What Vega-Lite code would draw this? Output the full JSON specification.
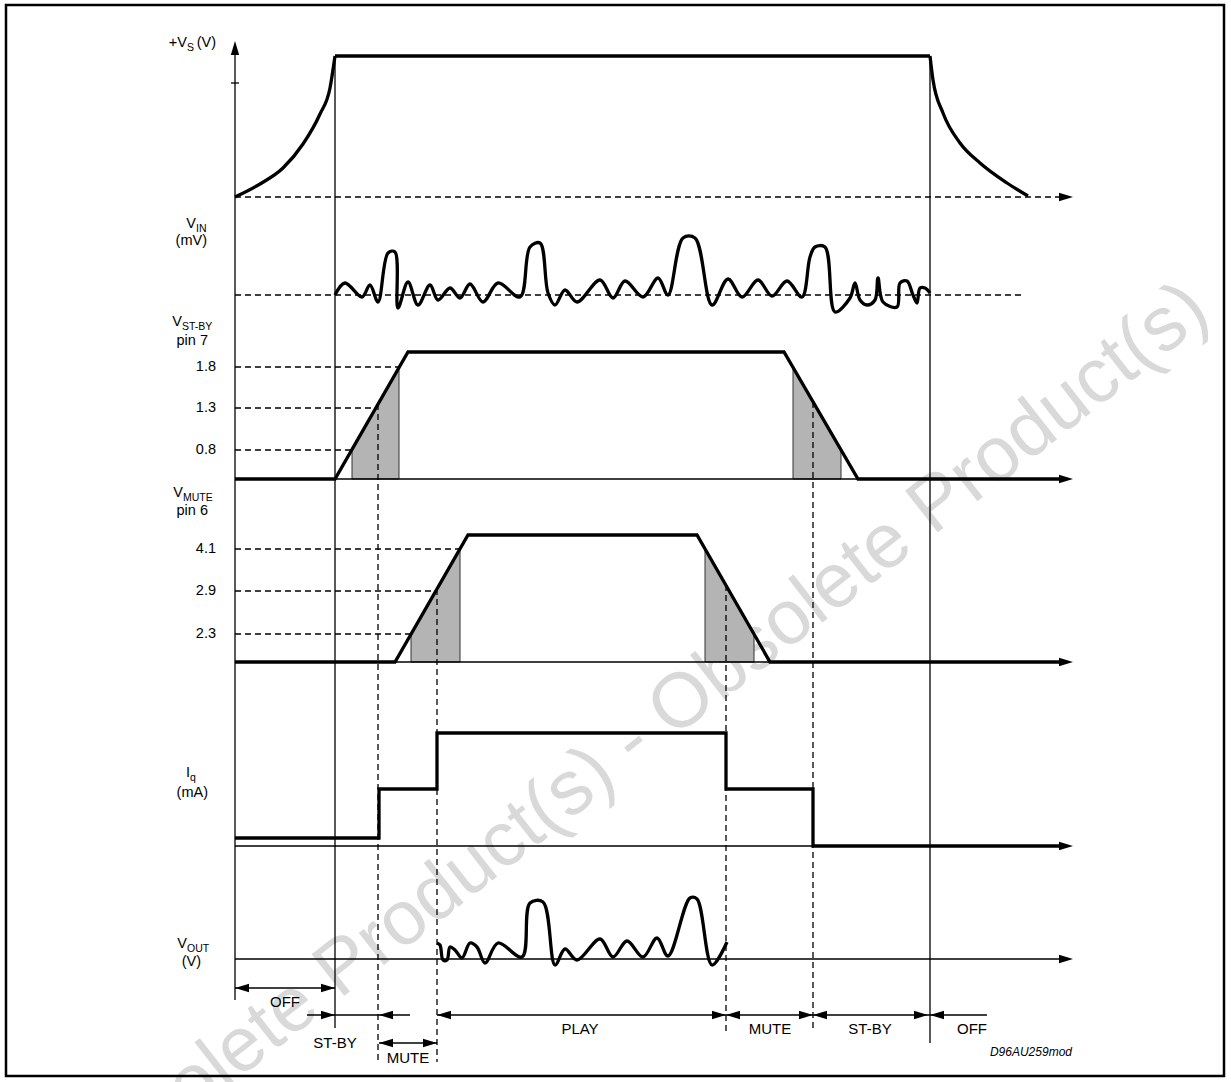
{
  "$schema": "https://vega.github.io/schema/vega-lite/v6.json",
  "width": 1231,
  "height": 1082,
  "autosize": "none",
  "padding": 0,
  "background": "white",
  "config": {"view": {"stroke": null}, "font": "Liberation Sans"},
  "datasets": {
    "watermark": [{"t": "Obsolete Product(s) - Obsolete Product(s)", "x": 632, "y": 742}],
    "frame": [{"x": 6, "y": 5, "x2": 1224, "y2": 1076}],
    "shade": [
      {"id": "s1", "x": 352, "y": 450, "b": 479}, {"id": "s1", "x": 399, "y": 367, "b": 479},
      {"id": "s2", "x": 793, "y": 367, "b": 479}, {"id": "s2", "x": 841, "y": 450, "b": 479},
      {"id": "s3", "x": 411, "y": 634, "b": 662}, {"id": "s3", "x": 460, "y": 549, "b": 662},
      {"id": "s4", "x": 705, "y": 549, "b": 662}, {"id": "s4", "x": 754, "y": 634, "b": 662}
    ],
    "thin": [
      {"id": "ax", "x": 235, "y": 52}, {"id": "ax", "x": 235, "y": 1000},
      {"id": "tk", "x": 231, "y": 83}, {"id": "tk", "x": 239, "y": 83},
      {"id": "l335", "x": 335, "y": 56}, {"id": "l335", "x": 335, "y": 1028},
      {"id": "l930", "x": 930, "y": 56}, {"id": "l930", "x": 930, "y": 1043},
      {"id": "b1", "x": 235, "y": 479}, {"id": "b1", "x": 1060, "y": 479},
      {"id": "b2", "x": 235, "y": 662}, {"id": "b2", "x": 1060, "y": 662},
      {"id": "b3", "x": 235, "y": 846}, {"id": "b3", "x": 1060, "y": 846},
      {"id": "b4", "x": 235, "y": 959}, {"id": "b4", "x": 1060, "y": 959},
      {"id": "a1", "x": 235, "y": 988}, {"id": "a1", "x": 335, "y": 988},
      {"id": "a2", "x": 307, "y": 1015}, {"id": "a2", "x": 410, "y": 1015},
      {"id": "a3", "x": 437, "y": 1015}, {"id": "a3", "x": 987, "y": 1015},
      {"id": "a4", "x": 379, "y": 1043}, {"id": "a4", "x": 437, "y": 1043}
    ],
    "dash": [
      {"id": "d1", "x": 235, "y": 197}, {"id": "d1", "x": 1060, "y": 197},
      {"id": "d2", "x": 235, "y": 295}, {"id": "d2", "x": 1025, "y": 295},
      {"id": "d3", "x": 235, "y": 367}, {"id": "d3", "x": 399, "y": 367},
      {"id": "d4", "x": 235, "y": 408}, {"id": "d4", "x": 376, "y": 408},
      {"id": "d5", "x": 235, "y": 450}, {"id": "d5", "x": 352, "y": 450},
      {"id": "d6", "x": 235, "y": 549}, {"id": "d6", "x": 460, "y": 549},
      {"id": "d7", "x": 235, "y": 591}, {"id": "d7", "x": 436, "y": 591},
      {"id": "d8", "x": 235, "y": 634}, {"id": "d8", "x": 411, "y": 634},
      {"id": "v1", "x": 378, "y": 404}, {"id": "v1", "x": 378, "y": 1062},
      {"id": "v2", "x": 437, "y": 589}, {"id": "v2", "x": 437, "y": 1062},
      {"id": "v3", "x": 726, "y": 585}, {"id": "v3", "x": 726, "y": 1032},
      {"id": "v4", "x": 813, "y": 402}, {"id": "v4", "x": 813, "y": 1032}
    ],
    "thickLinear": [
      {"id": "vsflat", "x": 335, "y": 56}, {"id": "vsflat", "x": 930, "y": 56},
      {"id": "st", "x": 235, "y": 479}, {"id": "st", "x": 335, "y": 479}, {"id": "st", "x": 408, "y": 352}, {"id": "st", "x": 784, "y": 352}, {"id": "st", "x": 858, "y": 479}, {"id": "st", "x": 1060, "y": 479},
      {"id": "mu", "x": 235, "y": 662}, {"id": "mu", "x": 395, "y": 662}, {"id": "mu", "x": 468, "y": 535}, {"id": "mu", "x": 697, "y": 535}, {"id": "mu", "x": 770, "y": 662}, {"id": "mu", "x": 1060, "y": 662},
      {"id": "iq", "x": 235, "y": 838}, {"id": "iq", "x": 379, "y": 838}, {"id": "iq", "x": 379, "y": 789}, {"id": "iq", "x": 437, "y": 789}, {"id": "iq", "x": 437, "y": 733}, {"id": "iq", "x": 726, "y": 733}, {"id": "iq", "x": 726, "y": 789}, {"id": "iq", "x": 813, "y": 789}, {"id": "iq", "x": 813, "y": 846}, {"id": "iq", "x": 1060, "y": 846}
    ],
    "vsCurves": [
      {"id": "vsr", "x": 235, "y": 197}, {"id": "vsr", "x": 260, "y": 184}, {"id": "vsr", "x": 283, "y": 168}, {"id": "vsr", "x": 303, "y": 144}, {"id": "vsr", "x": 320, "y": 114}, {"id": "vsr", "x": 330, "y": 88}, {"id": "vsr", "x": 335, "y": 56},
      {"id": "vsf", "x": 930, "y": 56}, {"id": "vsf", "x": 933, "y": 80}, {"id": "vsf", "x": 943, "y": 113}, {"id": "vsf", "x": 960, "y": 143}, {"id": "vsf", "x": 980, "y": 163}, {"id": "vsf", "x": 1007, "y": 183}, {"id": "vsf", "x": 1028, "y": 196}
    ],
    "waves": [
      {"id": "vin", "x": 335, "y": 295}, {"id": "vin", "x": 345, "y": 283}, {"id": "vin", "x": 362, "y": 297}, {"id": "vin", "x": 370, "y": 285}, {"id": "vin", "x": 378, "y": 302}, {"id": "vin", "x": 388, "y": 253}, {"id": "vin", "x": 395, "y": 252}, {"id": "vin", "x": 398, "y": 308}, {"id": "vin", "x": 408, "y": 282}, {"id": "vin", "x": 418, "y": 305}, {"id": "vin", "x": 430, "y": 285}, {"id": "vin", "x": 438, "y": 300}, {"id": "vin", "x": 450, "y": 288}, {"id": "vin", "x": 460, "y": 298}, {"id": "vin", "x": 470, "y": 284}, {"id": "vin", "x": 483, "y": 302}, {"id": "vin", "x": 498, "y": 283}, {"id": "vin", "x": 520, "y": 297}, {"id": "vin", "x": 530, "y": 247}, {"id": "vin", "x": 540, "y": 243}, {"id": "vin", "x": 548, "y": 293}, {"id": "vin", "x": 555, "y": 305}, {"id": "vin", "x": 565, "y": 290}, {"id": "vin", "x": 577, "y": 302}, {"id": "vin", "x": 600, "y": 280}, {"id": "vin", "x": 613, "y": 298}, {"id": "vin", "x": 625, "y": 281}, {"id": "vin", "x": 643, "y": 297}, {"id": "vin", "x": 658, "y": 278}, {"id": "vin", "x": 668, "y": 295}, {"id": "vin", "x": 683, "y": 238}, {"id": "vin", "x": 695, "y": 238}, {"id": "vin", "x": 712, "y": 305}, {"id": "vin", "x": 728, "y": 279}, {"id": "vin", "x": 742, "y": 297}, {"id": "vin", "x": 758, "y": 280}, {"id": "vin", "x": 772, "y": 296}, {"id": "vin", "x": 787, "y": 281}, {"id": "vin", "x": 802, "y": 297}, {"id": "vin", "x": 810, "y": 257}, {"id": "vin", "x": 815, "y": 247}, {"id": "vin", "x": 825, "y": 247}, {"id": "vin", "x": 835, "y": 312}, {"id": "vin", "x": 850, "y": 298}, {"id": "vin", "x": 855, "y": 283}, {"id": "vin", "x": 860, "y": 300}, {"id": "vin", "x": 867, "y": 305}, {"id": "vin", "x": 875, "y": 300}, {"id": "vin", "x": 878, "y": 278}, {"id": "vin", "x": 883, "y": 302}, {"id": "vin", "x": 897, "y": 307}, {"id": "vin", "x": 900, "y": 283}, {"id": "vin", "x": 907, "y": 281}, {"id": "vin", "x": 913, "y": 295}, {"id": "vin", "x": 917, "y": 303}, {"id": "vin", "x": 920, "y": 288}, {"id": "vin", "x": 925, "y": 288}, {"id": "vin", "x": 930, "y": 293},
      {"id": "vout", "x": 437, "y": 943}, {"id": "vout", "x": 440, "y": 945}, {"id": "vout", "x": 443, "y": 960}, {"id": "vout", "x": 447, "y": 960}, {"id": "vout", "x": 450, "y": 947}, {"id": "vout", "x": 455, "y": 950}, {"id": "vout", "x": 462, "y": 958}, {"id": "vout", "x": 470, "y": 943}, {"id": "vout", "x": 477, "y": 947}, {"id": "vout", "x": 485, "y": 963}, {"id": "vout", "x": 498, "y": 943}, {"id": "vout", "x": 522, "y": 957}, {"id": "vout", "x": 530, "y": 903}, {"id": "vout", "x": 543, "y": 902}, {"id": "vout", "x": 555, "y": 965}, {"id": "vout", "x": 565, "y": 949}, {"id": "vout", "x": 577, "y": 960}, {"id": "vout", "x": 600, "y": 939}, {"id": "vout", "x": 613, "y": 957}, {"id": "vout", "x": 627, "y": 941}, {"id": "vout", "x": 643, "y": 957}, {"id": "vout", "x": 657, "y": 938}, {"id": "vout", "x": 668, "y": 956}, {"id": "vout", "x": 690, "y": 898}, {"id": "vout", "x": 697, "y": 899}, {"id": "vout", "x": 712, "y": 965}, {"id": "vout", "x": 727, "y": 942}
    ],
    "bigArrows": [
      {"x": 1066, "y": 197, "dir": "R"}, {"x": 1066, "y": 479, "dir": "R"}, {"x": 1066, "y": 662, "dir": "R"}, {"x": 1066, "y": 846, "dir": "R"}, {"x": 1066, "y": 959, "dir": "R"},
      {"x": 235, "y": 48, "dir": "U"}
    ],
    "smallArrows": [
      {"x": 242, "y": 988, "dir": "L"}, {"x": 328, "y": 988, "dir": "R"},
      {"x": 328, "y": 1015, "dir": "R"}, {"x": 386, "y": 1015, "dir": "L"},
      {"x": 444, "y": 1015, "dir": "L"}, {"x": 719, "y": 1015, "dir": "R"},
      {"x": 733, "y": 1015, "dir": "L"}, {"x": 806, "y": 1015, "dir": "R"},
      {"x": 820, "y": 1015, "dir": "L"}, {"x": 921, "y": 1015, "dir": "R"},
      {"x": 937, "y": 1015, "dir": "L"},
      {"x": 386, "y": 1043, "dir": "L"}, {"x": 430, "y": 1043, "dir": "R"}
    ],
    "labelsR": [
      {"t": "+V", "x": 187, "y": 43}, {"t": "(V)", "x": 216, "y": 43},
      {"t": "V", "x": 196, "y": 224}, {"t": "(mV)", "x": 207, "y": 241},
      {"t": "V", "x": 182, "y": 322}, {"t": "pin 7", "x": 208, "y": 341},
      {"t": "1.8", "x": 216, "y": 367}, {"t": "1.3", "x": 216, "y": 408}, {"t": "0.8", "x": 216, "y": 450},
      {"t": "V", "x": 183, "y": 493}, {"t": "pin 6", "x": 208, "y": 511},
      {"t": "4.1", "x": 216, "y": 549}, {"t": "2.9", "x": 216, "y": 591}, {"t": "2.3", "x": 216, "y": 634},
      {"t": "I", "x": 190, "y": 773}, {"t": "(mA)", "x": 208, "y": 793},
      {"t": "V", "x": 187, "y": 944}, {"t": "(V)", "x": 201, "y": 962}
    ],
    "subs": [
      {"t": "S", "x": 187, "y": 48}, {"t": "IN", "x": 196, "y": 229}, {"t": "ST-BY", "x": 182, "y": 327},
      {"t": "MUTE", "x": 183, "y": 498}, {"t": "q", "x": 190, "y": 778}, {"t": "OUT", "x": 187, "y": 949}
    ],
    "bottom": [
      {"t": "OFF", "x": 285, "y": 1002}, {"t": "ST-BY", "x": 335, "y": 1043}, {"t": "MUTE", "x": 408, "y": 1058},
      {"t": "PLAY", "x": 580, "y": 1029}, {"t": "MUTE", "x": 770, "y": 1029}, {"t": "ST-BY", "x": 870, "y": 1029}, {"t": "OFF", "x": 972, "y": 1029}
    ],
    "code": [{"t": "D96AU259mod", "x": 1072, "y": 1052}]
  },
  "encoding": {
    "x": {"field": "x", "type": "quantitative", "scale": {"domain": [0, 1231], "nice": false, "zero": false}, "axis": null},
    "y": {"field": "y", "type": "quantitative", "scale": {"domain": [0, 1082], "nice": false, "zero": false, "reverse": true}, "axis": null}
  },
  "layer": [
    {
      "data": {"name": "watermark"},
      "mark": {"type": "text", "angle": -38, "fontSize": 77, "fill": "#d9d9d9", "align": "center", "baseline": "middle", "font": "Liberation Sans"},
      "encoding": {"text": {"field": "t"}}
    },
    {
      "data": {"name": "frame"},
      "mark": {"type": "rect", "fill": null, "fillOpacity": 0, "stroke": "black", "strokeWidth": 2.5},
      "encoding": {"x2": {"field": "x2"}, "y2": {"field": "y2"}}
    },
    {
      "data": {"name": "shade"},
      "mark": {"type": "area", "fill": "#b4b4b4", "stroke": "#333333", "strokeWidth": 1, "opacity": 1},
      "encoding": {"y2": {"field": "b"}, "detail": {"field": "id"}}
    },
    {
      "data": {"name": "thin"},
      "mark": {"type": "line", "color": "black", "strokeWidth": 1.3},
      "encoding": {"detail": {"field": "id"}, "order": {"value": null}}
    },
    {
      "data": {"name": "dash"},
      "mark": {"type": "line", "color": "black", "strokeWidth": 1.3, "strokeDash": [6, 4]},
      "encoding": {"detail": {"field": "id"}, "order": {"value": null}}
    },
    {
      "data": {"name": "thickLinear"},
      "mark": {"type": "line", "color": "black", "strokeWidth": 3.3, "strokeJoin": "miter"},
      "encoding": {"detail": {"field": "id"}, "order": {"value": null}}
    },
    {
      "data": {"name": "vsCurves"},
      "mark": {"type": "line", "color": "black", "strokeWidth": 3.3, "interpolate": "monotone"},
      "encoding": {"detail": {"field": "id"}, "order": {"value": null}}
    },
    {
      "data": {"name": "waves"},
      "mark": {"type": "line", "color": "black", "strokeWidth": 3.3, "interpolate": "catmull-rom"},
      "encoding": {"detail": {"field": "id"}, "order": {"value": null}}
    },
    {
      "data": {"name": "bigArrows"},
      "mark": {"type": "point", "filled": true, "color": "black", "opacity": 1, "size": 196, "strokeWidth": 0},
      "encoding": {"shape": {"field": "dir", "type": "nominal", "legend": null, "scale": {"domain": ["R", "L", "U"], "range": ["M-1,-0.6L1,0L-1,0.6Z", "M1,-0.6L-1,0L1,0.6Z", "M-0.6,1L0,-1L0.6,1Z"]}}}
    },
    {
      "data": {"name": "smallArrows"},
      "mark": {"type": "point", "filled": true, "color": "black", "opacity": 1, "size": 196, "strokeWidth": 0},
      "encoding": {"shape": {"field": "dir", "type": "nominal", "legend": null, "scale": {"domain": ["R", "L", "U"], "range": ["M-1,-0.45L1,0L-1,0.45Z", "M1,-0.45L-1,0L1,0.45Z", "M-0.45,1L0,-1L0.45,1Z"]}}}
    },
    {
      "data": {"name": "labelsR"},
      "mark": {"type": "text", "align": "right", "baseline": "middle", "fontSize": 14.5, "color": "black"},
      "encoding": {"text": {"field": "t"}}
    },
    {
      "data": {"name": "subs"},
      "mark": {"type": "text", "align": "left", "baseline": "middle", "fontSize": 10.5, "color": "black"},
      "encoding": {"text": {"field": "t"}}
    },
    {
      "data": {"name": "bottom"},
      "mark": {"type": "text", "align": "center", "baseline": "middle", "fontSize": 15, "color": "black"},
      "encoding": {"text": {"field": "t"}}
    },
    {
      "data": {"name": "code"},
      "mark": {"type": "text", "align": "right", "baseline": "middle", "fontSize": 12, "fontStyle": "italic", "color": "black"},
      "encoding": {"text": {"field": "t"}}
    }
  ]
}
